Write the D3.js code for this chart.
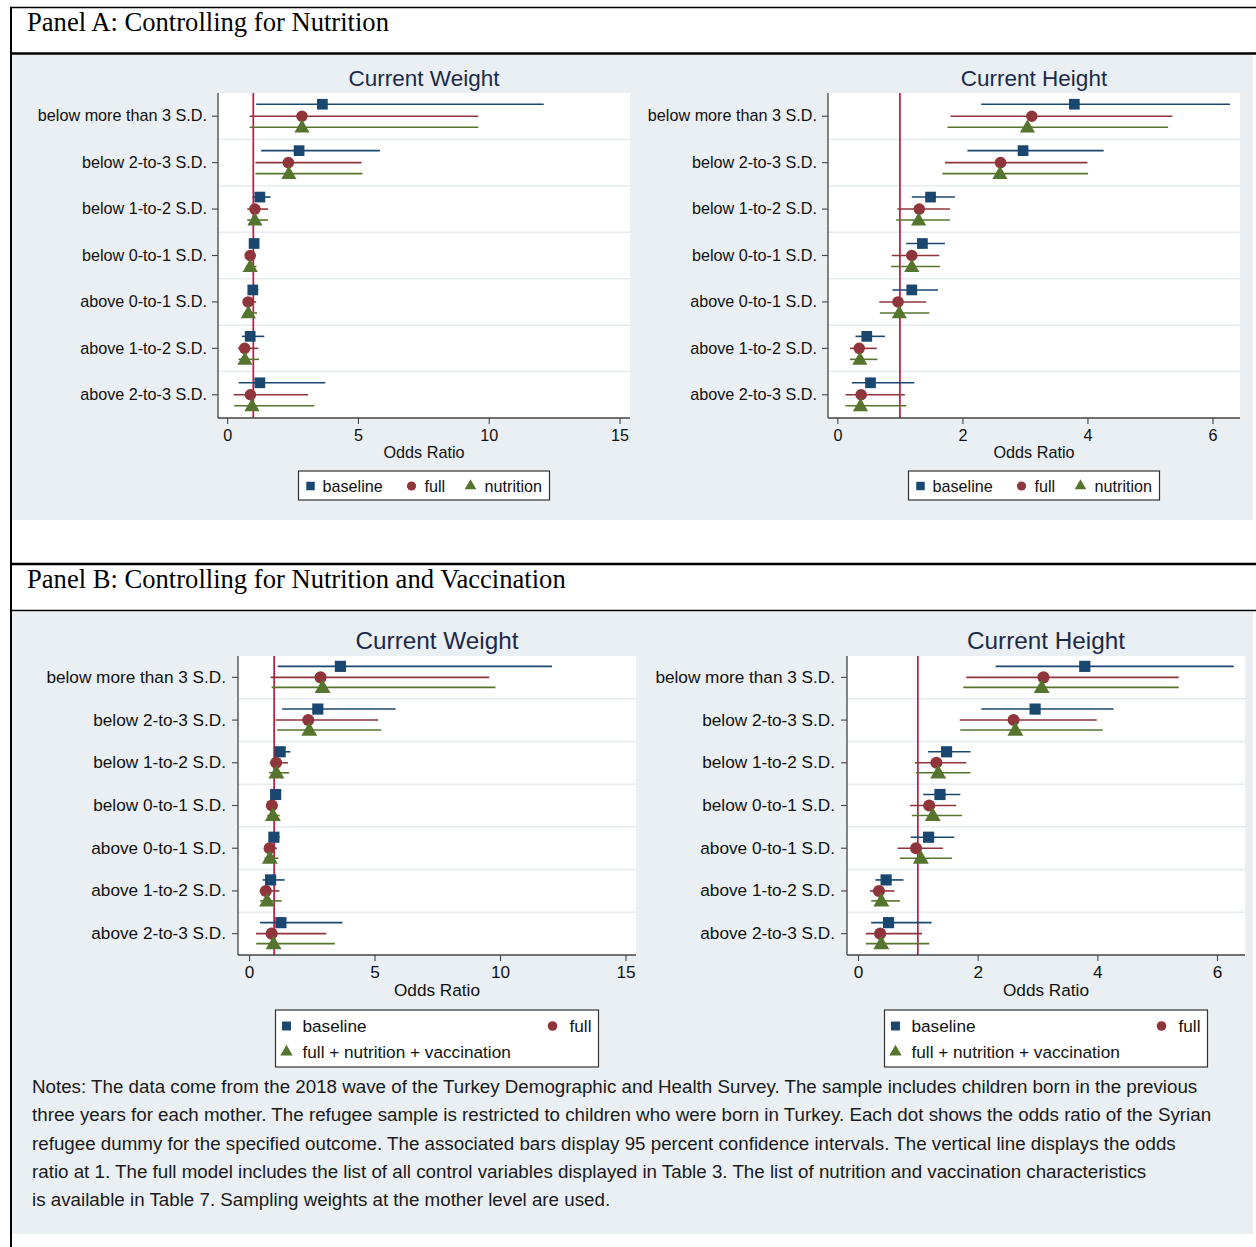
<!DOCTYPE html>
<html><head><meta charset="utf-8">
<script src="https://cdn.jsdelivr.net/npm/d3@7"></script>
<style>
html,body{margin:0;padding:0;background:#fff;}
svg{display:block;}
</style></head>
<body>
<script>
// ---------------- DATA ----------------
const categories = ["below more than 3 S.D.", "below 2-to-3 S.D.", "below 1-to-2 S.D.", "below 0-to-1 S.D.",
  "above 0-to-1 S.D.", "above 1-to-2 S.D.", "above 2-to-3 S.D."];
const seriesA = ["baseline", "full", "nutrition"];
const seriesB = ["baseline", "full", "full + nutrition + vaccination"];
const weightTicks = [0, 5, 10, 15];
const heightTicks = [0, 2, 4, 6];
const panelTitles = ["Panel A: Controlling for Nutrition", "Panel B: Controlling for Nutrition and Vaccination"];
const chartTitles = ["Current Weight", "Current Height"];
const axisTitle = "Odds Ratio";

// each row: [odds ratio, lower 95% CI, upper 95% CI]
const weightA_baseline  = [[3.64,1.11,12.10],[2.75,1.30,5.84],[1.25,0.98,1.66],[1.03,0.92,1.14],[0.98,0.80,1.19],[0.88,0.56,1.42],[1.25,0.44,3.75]];
const weightA_full      = [[2.86,0.86,9.60],[2.34,1.08,5.14],[1.06,0.77,1.56],[0.88,0.70,1.10],[0.80,0.63,1.11],[0.67,0.41,1.19],[0.89,0.25,3.09]];
const weightA_nutrition = [[2.86,0.86,9.60],[2.36,1.08,5.17],[1.06,0.77,1.56],[0.88,0.72,1.12],[0.81,0.63,1.14],[0.68,0.43,1.22],[0.95,0.27,3.33]];

const heightA_baseline  = [[3.79,2.30,6.28],[2.97,2.08,4.26],[1.49,1.19,1.88],[1.36,1.10,1.72],[1.19,0.88,1.61],[0.47,0.29,0.76],[0.53,0.23,1.23]];
const heightA_full      = [[3.11,1.81,5.36],[2.61,1.72,4.00],[1.31,0.96,1.80],[1.19,0.87,1.63],[0.97,0.67,1.42],[0.35,0.20,0.63],[0.38,0.13,1.08]];
const heightA_nutrition = [[3.04,1.76,5.29],[2.60,1.68,4.01],[1.30,0.94,1.80],[1.19,0.86,1.64],[0.99,0.68,1.47],[0.36,0.20,0.64],[0.37,0.13,1.10]];

const weightB_baseline  = [[3.64,1.14,12.07],[2.74,1.32,5.84],[1.24,1.04,1.65],[1.06,0.95,1.19],[0.99,0.82,1.22],[0.86,0.54,1.42],[1.27,0.44,3.72]];
const weightB_full      = [[2.85,0.86,9.57],[2.36,1.06,5.15],[1.08,0.82,1.55],[0.91,0.75,1.14],[0.82,0.62,1.11],[0.67,0.42,1.21],[0.90,0.28,3.08]];
const weightB_vacc      = [[2.93,0.90,9.82],[2.40,1.12,5.27],[1.09,0.80,1.60],[0.95,0.73,1.22],[0.83,0.62,1.17],[0.72,0.44,1.30],[0.98,0.29,3.42]];

const heightB_baseline  = [[3.79,2.30,6.28],[2.96,2.06,4.27],[1.48,1.17,1.88],[1.37,1.09,1.71],[1.18,0.88,1.61],[0.47,0.29,0.76],[0.51,0.22,1.23]];
const heightB_full      = [[3.10,1.81,5.36],[2.60,1.70,3.99],[1.31,0.95,1.81],[1.19,0.87,1.64],[0.97,0.66,1.42],[0.35,0.20,0.61],[0.37,0.13,1.07]];
const heightB_vacc      = [[3.07,1.76,5.36],[2.63,1.71,4.09],[1.34,0.97,1.88],[1.25,0.90,1.74],[1.05,0.70,1.57],[0.39,0.22,0.70],[0.39,0.13,1.19]];

const notesLines = [
  "Notes: The data come from the 2018 wave of the Turkey Demographic and Health Survey. The sample includes children born in the previous",
  "three years for each mother. The refugee sample is restricted to children who were born in Turkey. Each dot shows the odds ratio of the Syrian",
  "refugee dummy for the specified outcome. The associated bars display 95 percent confidence intervals. The vertical line displays the odds",
  "ratio at 1. The full model includes the list of all control variables displayed in Table 3. The list of nutrition and vaccination characteristics",
  "is available in Table 7. Sampling weights at the mother level are used."
];

// ---------------- STYLE ----------------
const colors = ["#1a476f", "#90353b", "#55752f"];
const shapes = [d3.symbolSquare, d3.symbolCircle, d3.symbolTriangle];
const refColor = "#c0183f";
const bgGray = "#e9eff2";
const sans = "'Liberation Sans', Arial, sans-serif";
const serif = "'Liberation Serif', 'Times New Roman', serif";

const svg = d3.select("body").append("svg").attr("width", 1256).attr("height", 1247);
svg.append("rect").attr("width", 1256).attr("height", 1247).attr("fill", "#fff");

// panel backgrounds
svg.append("rect").attr("x", 12).attr("y", 55).attr("width", 1241).attr("height", 465).attr("fill", bgGray);
svg.append("rect").attr("x", 12).attr("y", 612).attr("width", 1241).attr("height", 622).attr("fill", bgGray);

// frame lines
const frame = svg.append("g").attr("stroke", "#000");
frame.append("line").attr("x1", 10).attr("x2", 1256).attr("y1", 7.5).attr("y2", 7.5).attr("stroke-width", 1.5);
frame.append("line").attr("x1", 10).attr("x2", 1256).attr("y1", 53.5).attr("y2", 53.5).attr("stroke-width", 2.5);
frame.append("line").attr("x1", 10).attr("x2", 1256).attr("y1", 564).attr("y2", 564).attr("stroke-width", 2.5);
frame.append("line").attr("x1", 10).attr("x2", 1256).attr("y1", 610.5).attr("y2", 610.5).attr("stroke-width", 1.5);
frame.append("line").attr("x1", 11).attr("x2", 11).attr("y1", 7).attr("y2", 1247).attr("stroke-width", 2);

// panel titles
svg.append("text").attr("x", 27).attr("y", 31).attr("font-family", serif).attr("font-size", 26.6).attr("fill", "#000").text(panelTitles[0]);
svg.append("text").attr("x", 27).attr("y", 588).attr("font-family", serif).attr("font-size", 26.6).attr("fill", "#000").text(panelTitles[1]);

function drawChart(cfg) {
  const g = svg.append("g");
  const x = d3.scaleLinear().domain(cfg.domain).range([cfg.left, cfg.right]);
  const y = d3.scaleBand().domain(categories).range([cfg.top, cfg.bottom]);
  const bw = y.bandwidth();

  g.append("rect").attr("x", cfg.left).attr("y", cfg.top)
    .attr("width", cfg.right - cfg.left).attr("height", cfg.bottom - cfg.top).attr("fill", "#fff");

  // separators between categories
  g.selectAll("line.sep").data(categories.slice(1)).join("line").attr("class", "sep")
    .attr("x1", cfg.left).attr("x2", cfg.right)
    .attr("y1", d => y(d)).attr("y2", d => y(d))
    .attr("stroke", "#e6ecf0").attr("stroke-width", 1.5);

  // reference line at 1
  g.append("line").attr("x1", x(1)).attr("x2", x(1)).attr("y1", cfg.top).attr("y2", cfg.bottom)
    .attr("stroke", refColor).attr("stroke-width", 1.7);

  // axes
  const yAxis = g.append("g").attr("transform", `translate(${cfg.left},0)`)
    .call(d3.axisLeft(y).tickSize(6).tickSizeOuter(0).tickPadding(cfg.labPad));
  const xAxis = g.append("g").attr("transform", `translate(0,${cfg.bottom})`)
    .call(d3.axisBottom(x).tickValues(cfg.ticks).tickFormat(d3.format("d")).tickSize(6).tickSizeOuter(0).tickPadding(5));
  [yAxis, xAxis].forEach(a => {
    a.select(".domain").attr("stroke", "#444").attr("stroke-width", 1.3);
    a.selectAll(".tick line").attr("stroke", "#444").attr("stroke-width", 1.1);
    a.selectAll("text").attr("font-family", sans).attr("fill", "#111");
  });
  yAxis.selectAll("text").attr("font-size", cfg.labSize);
  xAxis.selectAll("text").attr("font-size", cfg.tickSize);
  xAxis.select(".domain").attr("d", `M${cfg.left},0H${cfg.right}`);
  yAxis.select(".domain").attr("d", `M0,${cfg.top}V${cfg.bottom}`);

  // series
  cfg.data.forEach((rows, si) => {
    const off = cfg.offsets[si];
    const sg = g.append("g");
    sg.selectAll("line").data(rows).join("line")
      .attr("x1", d => x(d[1])).attr("x2", d => x(d[2]))
      .attr("y1", (d, i) => y(categories[i]) + bw / 2 + off)
      .attr("y2", (d, i) => y(categories[i]) + bw / 2 + off)
      .attr("stroke", colors[si]).attr("stroke-width", 1.6);
    sg.selectAll("path").data(rows).join("path")
      .attr("d", d3.symbol().type(shapes[si]).size(cfg.symSizes[si]))
      .attr("transform", (d, i) => `translate(${x(d[0])},${y(categories[i]) + bw / 2 + off + (si === 2 ? 1 : 0)})`)
      .attr("fill", colors[si]);
  });

  // titles
  const cx = (cfg.left + cfg.right) / 2;
  g.append("text").attr("x", cx).attr("y", cfg.top - 7).attr("text-anchor", "middle")
    .attr("font-family", sans).attr("font-size", cfg.titleSize).attr("fill", "#1c2a48").text(cfg.title);
  g.append("text").attr("x", cx).attr("y", cfg.bottom + cfg.xlabDy).attr("text-anchor", "middle")
    .attr("font-family", sans).attr("font-size", cfg.tickSize).attr("fill", "#111").text(axisTitle);

  // legend
  const L = cfg.legend;
  const lg = g.append("g");
  lg.append("rect").attr("x", cx - L.w / 2).attr("y", L.y).attr("width", L.w).attr("height", L.h)
    .attr("fill", "#fff").attr("stroke", "#333").attr("stroke-width", 1.2);
  L.items.forEach((it, si) => {
    lg.append("path").attr("d", d3.symbol().type(shapes[si]).size(L.sym[si]))
      .attr("transform", `translate(${cx - L.w / 2 + it.mx},${L.y + it.my})`).attr("fill", colors[si]);
    lg.append("text").attr("x", cx - L.w / 2 + it.tx).attr("y", L.y + it.my).attr("dy", "0.36em")
      .attr("font-family", sans).attr("font-size", L.size).attr("fill", "#111").text(cfg.series[si]);
  });
}

const legendA = {
  w: 251, h: 29, y: 471, size: 16.2, sym: [72, 66, 58],
  items: [{mx: 12, tx: 24, my: 15}, {mx: 113, tx: 126, my: 15}, {mx: 172, tx: 186, my: 15}]
};
const legendB = {
  w: 323, h: 57, y: 1010, size: 17.2, sym: [80, 72, 66],
  items: [{mx: 11, tx: 27, my: 16}, {mx: 277, tx: 294, my: 16}, {mx: 11, tx: 27, my: 42}]
};

drawChart({left: 218, right: 630, top: 93, bottom: 418, domain: [-0.35, 15.4], ticks: weightTicks,
  title: chartTitles[0], titleSize: 22.5, labSize: 16.2, tickSize: 16.2, labPad: 5, xlabDy: 40,
  offsets: [-12, 0, 11], symSizes: [115, 105, 100], series: seriesA,
  data: [weightA_baseline, weightA_full, weightA_nutrition], legend: legendA});
drawChart({left: 828, right: 1240, top: 93, bottom: 418, domain: [-0.15, 6.44], ticks: heightTicks,
  title: chartTitles[1], titleSize: 22.5, labSize: 16.2, tickSize: 16.2, labPad: 5, xlabDy: 40,
  offsets: [-12, 0, 11], symSizes: [115, 105, 100], series: seriesA,
  data: [heightA_baseline, heightA_full, heightA_nutrition], legend: legendA});
drawChart({left: 238, right: 636, top: 656, bottom: 955, domain: [-0.44, 15.42], ticks: weightTicks,
  title: chartTitles[0], titleSize: 24.3, labSize: 17.2, tickSize: 17.2, labPad: 6, xlabDy: 41,
  offsets: [-11, 0, 10], symSizes: [125, 115, 110], series: seriesB,
  data: [weightB_baseline, weightB_full, weightB_vacc], legend: legendB});
drawChart({left: 847, right: 1245, top: 656, bottom: 955, domain: [-0.184, 6.468], ticks: heightTicks,
  title: chartTitles[1], titleSize: 24.3, labSize: 17.2, tickSize: 17.2, labPad: 6, xlabDy: 41,
  offsets: [-11, 0, 10], symSizes: [125, 115, 110], series: seriesB,
  data: [heightB_baseline, heightB_full, heightB_vacc], legend: legendB});

// notes
svg.append("g").selectAll("text").data(notesLines).join("text")
  .attr("x", 32).attr("y", (d, i) => 1093 + i * 28.3)
  .attr("font-family", sans).attr("font-size", 18.75).attr("fill", "#1a1a1a").text(d => d);
</script>
</body></html>
